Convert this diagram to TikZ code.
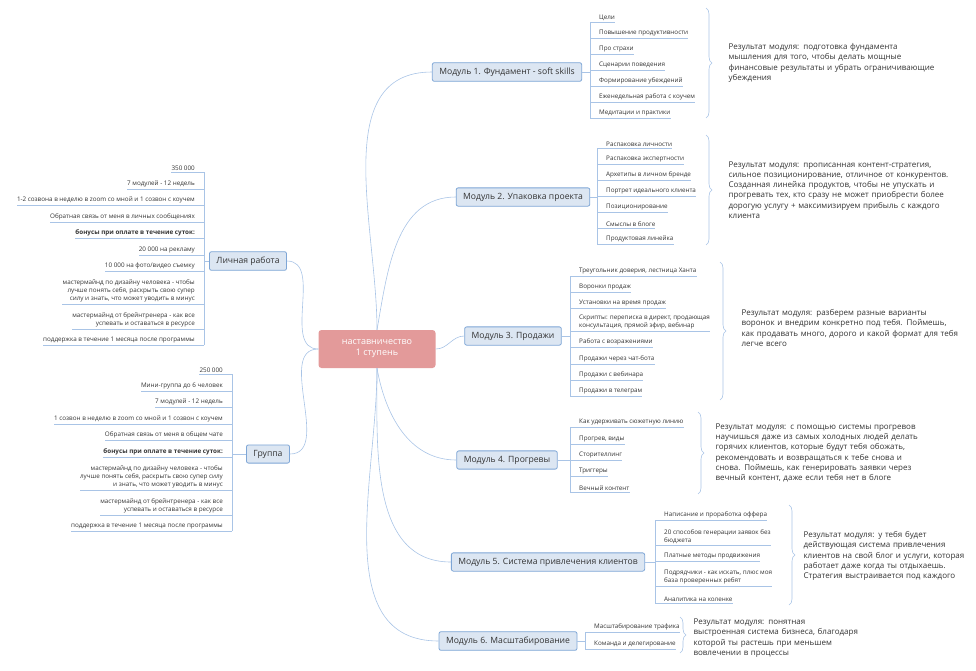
\documentclass[tikz,border=0pt]{standalone}
\usepackage{fontspec}
\setmainfont{Open Sans}
\usetikzlibrary{decorations.pathreplacing}

\definecolor{lineblue}{HTML}{A9C4E6}
\definecolor{modfill}{HTML}{DCE6F2}
\definecolor{moddraw}{HTML}{7EA6D6}
\definecolor{rootfill}{HTML}{E39A9A}
\definecolor{txt}{HTML}{333333}

\tikzset{
  conn/.style={draw=lineblue, line width=0.6pt},
  module/.style={draw=moddraw, fill=modfill, rounded corners=2pt, line width=0.8pt,
    font=\fontsize{8.6}{10}\selectfont, text=txt, inner xsep=7pt, inner ysep=5pt},
  root/.style={fill=rootfill, rounded corners=3pt, text=white, align=center,
    font=\fontsize{9}{11}\selectfont, minimum width=117pt, minimum height=38pt},
  leaf/.style={font=\fontsize{6.3}{8}\selectfont, text=txt, inner xsep=0pt, inner ysep=1.5pt,
    align=left, anchor=south west},
  leafl/.style={font=\fontsize{6.3}{8}\selectfont, text=txt, inner xsep=0pt, inner ysep=1.5pt,
    align=right, anchor=south east},
  result/.style={font=\fontsize{8}{10.3}\selectfont, text=txt, align=left, anchor=west},
  brace/.style={draw=lineblue, line width=0.6pt, decorate, decoration={brace, amplitude=6pt}}
}

% right-hand leaf: name, x of bracket, y of underline, text
\newcommand\leafR[4]{
  \node[leaf] (#1) at (#2+9,#3) {#4};
  \draw[conn] (#2,#3) -- (#1.south east);
}
% left-hand leaf
\newcommand\leafL[4]{
  \node[leafl] (#1) at (#2-9,#3) {#4};
  \draw[conn] (#2,#3) -- (#1.south west);
}

\begin{document}
\begin{tikzpicture}[x=1pt,y=-1pt]
\useasboundingbox (0,0) rectangle (976,670);

\node[root] (root) at (377,349) {наставничество\\1 ступень};

\node[module] (m1) at (507,72) {Модуль 1. Фундамент - soft skills};
\node[module] (m2) at (523,197) {Модуль 2. Упаковка проекта};
\node[module] (m3) at (513,336) {Модуль 3. Продажи};
\node[module] (m4) at (507,460) {Модуль 4. Прогревы};
\node[module] (m5) at (548,562) {Модуль 5. Система привлечения клиентов};
\node[module] (m6) at (508,641) {Модуль 6. Масштабирование};
\node[module] (pers) at (248,261) {Личная работа};
\node[module] (grp) at (268,454) {Группа};

% from the centre
\draw[conn] (root.north) to[out=90,in=180] (m1.west);
\draw[conn] (root.north) to[out=80,in=180] (m2.west);
\draw[conn] (root.east) to[out=0,in=180] (m3.west);
\draw[conn] (root.south) to[out=-80,in=180] (m4.west);
\draw[conn] (root.south) to[out=-90,in=180] (m5.west);
\draw[conn] (root.south) to[out=-90,in=180] (m6.west);
\draw[conn] (root.west) to[out=180,in=0] (pers.east);
\draw[conn] (root.west) to[out=180,in=0] (grp.east);

% Module 1
\leafR{a1}{590}{22}{Цели}
\leafR{a2}{590}{38}{Повышение продуктивности}
\leafR{a3}{590}{54}{Про страхи}
\leafR{a4}{590}{70}{Сценарии поведения}
\leafR{a5}{590}{86}{Формирование убеждений}
\leafR{a6}{590}{102}{Еженедельная работа с коучем}
\leafR{a7}{590}{118}{Медитации и практики}
\draw[conn] (590,22) -- (590,118);
\draw[conn] (m1.east) -- (590,72);
\draw[brace] (706,8) -- (706,118);
\node[result, text width=212pt] (r1) at (725,63) {Результат модуля: подготовка фундамента мышления для того, чтобы делать мощные финансовые результаты и убрать ограничивающие убеждения};

% Module 2
\leafR{b1}{597}{148}{Распаковка личности}
\leafR{b2}{597}{164}{Распаковка экспертности}
\leafR{b3}{597}{180}{Архетипы в личном бренде}
\leafR{b4}{597}{196}{Портрет идеального клиента}
\leafR{b5}{597}{212}{Позиционирование}
\leafR{b6}{597}{228}{Смыслы в блоге}
\leafR{b7}{597}{244}{Продуктовая линейка}
\draw[conn] (597,148) -- (597,244);
\draw[conn] (m2.east) -- (597,197);
\draw[brace] (706,135) -- (706,245);
\node[result, text width=222pt] (r2) at (725,190) {Результат модуля: прописанная контент-стратегия, сильное позиционирование, отличное от конкурентов. Созданная линейка продуктов, чтобы не упускать и прогревать тех, кто сразу не может приобрести более дорогую услугу + максимизируем прибыль с каждого клиента};

% Module 3
\leafR{c1}{570}{276}{Треугольник доверия, лестница Ханта}
\leafR{c2}{570}{292}{Воронки продаж}
\leafR{c3}{570}{308}{Установки на время продаж}
\leafR{c4}{570}{331}{Скрипты: переписка в директ, продающая\\консультация, прямой эфир, вебинар}
\leafR{c5}{570}{347}{Работа с возражениями}
\leafR{c6}{570}{364}{Продажи через чат-бота}
\leafR{c7}{570}{380}{Продажи с вебинара}
\leafR{c8}{570}{396}{Продажи в телеграм}
\draw[conn] (570,276) -- (570,396);
\draw[conn] (m3.east) -- (570,336);
\draw[brace] (720,262) -- (720,400);
\node[result, text width=222pt] (r3) at (738,328) {Результат модуля: разберем разные варианты воронок и внедрим конкретно под тебя. Поймешь, как продавать много, дорого и какой формат для тебя легче всего};

% Module 4
\leafR{d1}{570}{427}{Как удерживать сюжетную линию}
\leafR{d2}{570}{444}{Прогрев, виды}
\leafR{d3}{570}{460}{Сторителлинг}
\leafR{d4}{570}{476}{Триггеры}
\leafR{d5}{570}{492}{Вечный контент}
\draw[conn] (570,427) -- (570,492);
\draw[conn] (m4.east) -- (570,460);
\draw[brace] (698,412) -- (698,494);
\node[result, text width=208pt] (r4) at (712,453) {Результат модуля: с помощью системы прогревов научишься даже из самых холодных людей делать горячих клиентов, которые будут тебя обожать, рекомендовать и возвращаться к тебе снова и снова. Поймешь, как генерировать заявки через вечный контент, даже если тебя нет в блоге};

% Module 5
\leafR{e1}{655}{520}{Написание и проработка оффера}
\leafR{e2}{655}{545}{20 способов генерации заявок без\\бюджета}
\leafR{e3}{655}{561}{Платные методы продвижения}
\leafR{e4}{655}{586}{Подрядчики - как искать, плюс моя\\база проверенных ребят}
\leafR{e5}{655}{603}{Аналитика на коленке}
\draw[conn] (655,520) -- (655,603);
\draw[conn] (m5.east) -- (655,562);
\draw[brace] (789,505) -- (789,605);
\node[result, text width=172pt] (r5) at (800,556) {Результат модуля: у тебя будет действующая система привлечения клиентов на свой блог и услуги, которая работает даже когда ты отдыхаешь. Стратегия выстраивается под каждого};

% Module 6
\leafR{f1}{585}{632}{Масштабирование трафика}
\leafR{f2}{585}{649}{Команда и делегирование}
\draw[conn] (585,632) -- (585,649);
\draw[conn] (m6.east) -- (585,641);
\draw[brace] (680,617) -- (680,653);
\node[result, text width=165pt] (r6) at (690,638) {Результат модуля: понятная выстроенная система бизнеса, благодаря которой ты растешь при меньшем вовлечении в процессы};

% Личная работа
\leafL{p1}{204}{172}{350 000}
\leafL{p2}{204}{189}{7 модулей - 12 недель}
\leafL{p3}{204}{205}{1-2 созвона в неделю в zoom со мной и 1 созвон с коучем}
\leafL{p4}{204}{222}{Обратная связь от меня в личных сообщениях}
\leafL{p5}{204}{238}{\textbf{бонусы при оплате в течение суток:}}
\leafL{p6}{204}{255}{20 000 на рекламу}
\leafL{p7}{204}{271}{10 000 на фото/видео съемку}
\leafL{p8}{204}{304}{мастермайнд по дизайну человека - чтобы\\лучше понять себя, раскрыть свою супер\\силу и знать, что может уводить в минус}
\leafL{p9}{204}{329}{мастермайнд от брейнтренера - как все\\успевать и оставаться в ресурсе}
\leafL{p10}{204}{345}{поддержка в течение 1 месяца после программы}
\draw[conn] (204,172) -- (204,345);
\draw[conn] (pers.west) -- (204,261);

% Группа
\leafL{g1}{232}{374}{250 000}
\leafL{g2}{232}{391}{Мини-группа до 6 человек}
\leafL{g3}{232}{407}{7 модулей - 12 недель}
\leafL{g4}{232}{424}{1 созвон в неделю в zoom со мной и 1 созвон с коучем}
\leafL{g5}{232}{440}{Обратная связь от меня в общем чате}
\leafL{g6}{232}{457}{\textbf{бонусы при оплате в течение суток:}}
\leafL{g7}{232}{490}{мастермайнд по дизайну человека - чтобы\\лучше понять себя, раскрыть свою супер силу\\и знать, что может уводить в минус}
\leafL{g8}{232}{515}{мастермайнд от брейнтренера - как все\\успевать и оставаться в ресурсе}
\leafL{g9}{232}{531}{поддержка в течение 1 месяца после программы}
\draw[conn] (232,374) -- (232,531);
\draw[conn] (grp.west) -- (232,454);

\end{tikzpicture}
\end{document}
